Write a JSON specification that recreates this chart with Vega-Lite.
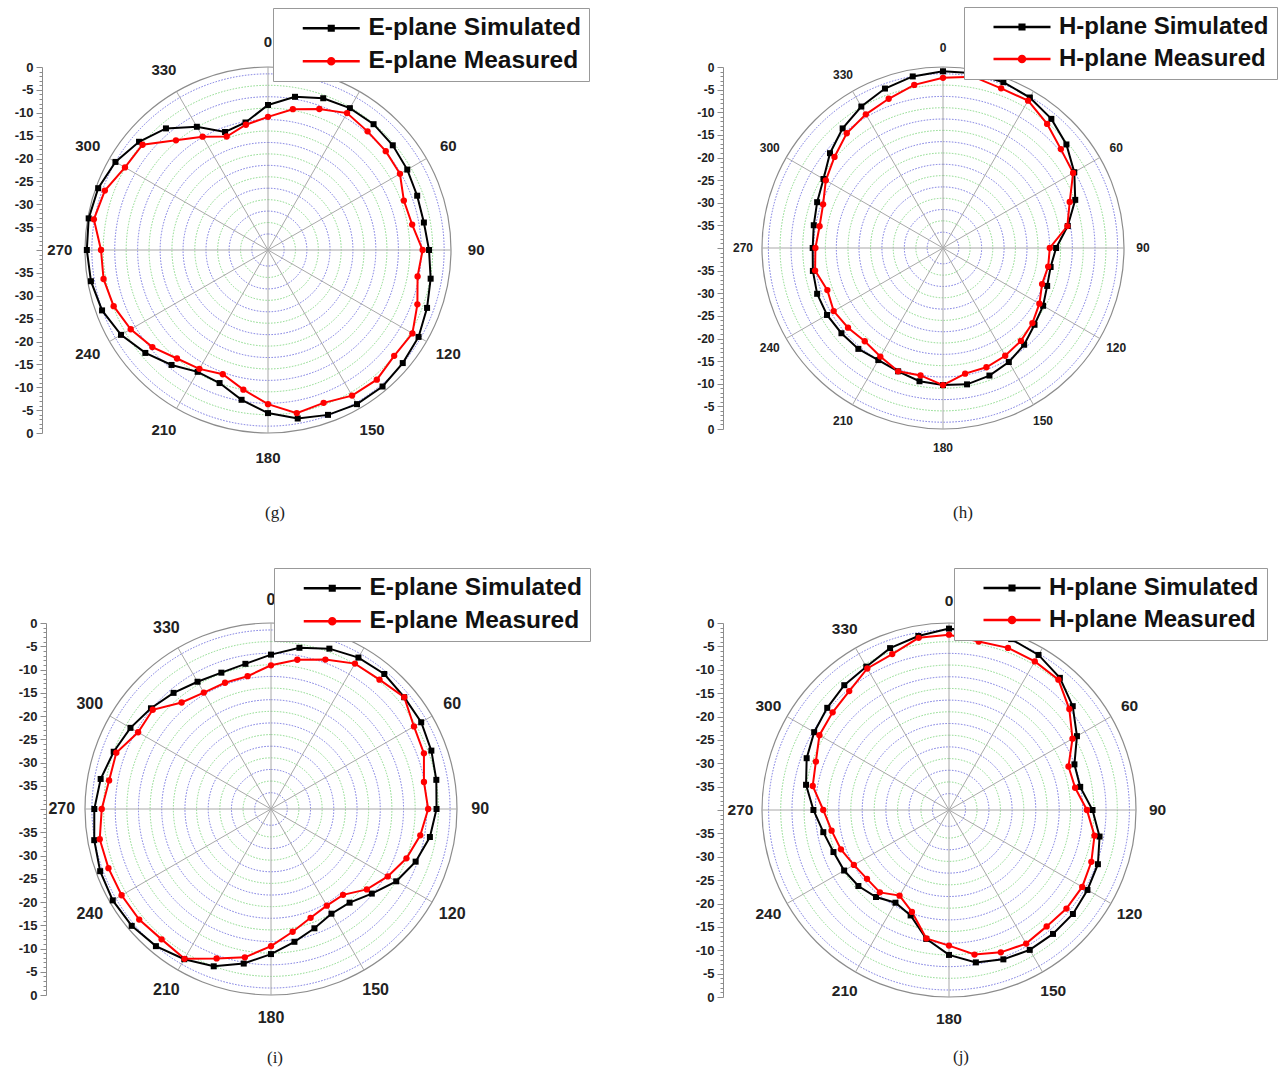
{
"$schema": "https://vega.github.io/schema/vega-lite/v6.json",
"background": "white",
"padding": {"left": 14, "top": 6, "right": 5, "bottom": 5},
"columns": 2,
"spacing": {"row": 190, "column": 305},
"bounds": "flush",
"config": {"view": {"stroke": null}, "font": "Liberation Sans"},
"resolve": {"scale": {"fill": "independent", "stroke": "independent", "shape": "independent", "radius": "independent", "theta": "independent"}},
"datasets": {
"grid": [
{"r": 3.5, "k": "b"}, {"r": 8.5, "k": "b"}, {"r": 13.5, "k": "b"}, {"r": 18.5, "k": "b"}, {"r": 23.5, "k": "b"}, {"r": 28.5, "k": "b"}, {"r": 33.5, "k": "b"}, {"r": 38.5, "k": "b"},
{"r": 6, "k": "g"}, {"r": 11, "k": "g"}, {"r": 16, "k": "g"}, {"r": 21, "k": "g"}, {"r": 26, "k": "g"}, {"r": 31, "k": "g"}, {"r": 36, "k": "g"},
{"r": 40, "k": "o"}
],
"angles": [
{"a": 0, "t": "0"}, {"a": 30, "t": "30"}, {"a": 60, "t": "60"}, {"a": 90, "t": "90"}, {"a": 120, "t": "120"}, {"a": 150, "t": "150"},
{"a": 180, "t": "180"}, {"a": 210, "t": "210"}, {"a": 240, "t": "240"}, {"a": 270, "t": "270"}, {"a": 300, "t": "300"}, {"a": 330, "t": "330"}
],
"curves": [
{"p":"g","s":"Simulated","a":0,"v":-8.3},{"p":"g","s":"Simulated","a":10,"v":-6.0},{"p":"g","s":"Simulated","a":20,"v":-4.7},{"p":"g","s":"Simulated","a":30,"v":-4.2},{"p":"g","s":"Simulated","a":40,"v":-4.1},{"p":"g","s":"Simulated","a":50,"v":-4.4},{"p":"g","s":"Simulated","a":60,"v":-4.85},{"p":"g","s":"Simulated","a":70,"v":-5.3},{"p":"g","s":"Simulated","a":80,"v":-5.4},{"p":"g","s":"Simulated","a":90,"v":-4.8},{"p":"g","s":"Simulated","a":100,"v":-3.9},{"p":"g","s":"Simulated","a":110,"v":-3.0},{"p":"g","s":"Simulated","a":120,"v":-2.0},{"p":"g","s":"Simulated","a":130,"v":-1.55},{"p":"g","s":"Simulated","a":140,"v":-1.05},{"p":"g","s":"Simulated","a":150,"v":-1.1},{"p":"g","s":"Simulated","a":160,"v":-1.65},{"p":"g","s":"Simulated","a":170,"v":-2.6},{"p":"g","s":"Simulated","a":180,"v":-4.35},{"p":"g","s":"Simulated","a":190,"v":-6.75},{"p":"g","s":"Simulated","a":200,"v":-9.05},{"p":"g","s":"Simulated","a":210,"v":-9.25},{"p":"g","s":"Simulated","a":220,"v":-7.2},{"p":"g","s":"Simulated","a":230,"v":-5.0},{"p":"g","s":"Simulated","a":240,"v":-2.9},{"p":"g","s":"Simulated","a":250,"v":-1.4},{"p":"g","s":"Simulated","a":260,"v":-0.7},{"p":"g","s":"Simulated","a":270,"v":-0.4},{"p":"g","s":"Simulated","a":280,"v":-0.2},{"p":"g","s":"Simulated","a":290,"v":-0.5},{"p":"g","s":"Simulated","a":300,"v":-1.5},{"p":"g","s":"Simulated","a":310,"v":-3.2},{"p":"g","s":"Simulated","a":320,"v":-5.3},{"p":"g","s":"Simulated","a":330,"v":-8.9},{"p":"g","s":"Simulated","a":340,"v":-12.55},{"p":"g","s":"Simulated","a":350,"v":-11.7},
{"p":"g","s":"Measured","a":0,"v":-10.9},{"p":"g","s":"Measured","a":10,"v":-8.75},{"p":"g","s":"Measured","a":20,"v":-7.2},{"p":"g","s":"Measured","a":30,"v":-5.45},{"p":"g","s":"Measured","a":40,"v":-6.15},{"p":"g","s":"Measured","a":50,"v":-6.4},{"p":"g","s":"Measured","a":60,"v":-6.7},{"p":"g","s":"Measured","a":70,"v":-8.4},{"p":"g","s":"Measured","a":80,"v":-8.0},{"p":"g","s":"Measured","a":90,"v":-6.2},{"p":"g","s":"Measured","a":100,"v":-6.8},{"p":"g","s":"Measured","a":110,"v":-5.25},{"p":"g","s":"Measured","a":120,"v":-3.55},{"p":"g","s":"Measured","a":130,"v":-4.0},{"p":"g","s":"Measured","a":140,"v":-3.0},{"p":"g","s":"Measured","a":150,"v":-3.25},{"p":"g","s":"Measured","a":160,"v":-4.45},{"p":"g","s":"Measured","a":170,"v":-3.8},{"p":"g","s":"Measured","a":180,"v":-6.3},{"p":"g","s":"Measured","a":190,"v":-9.0},{"p":"g","s":"Measured","a":200,"v":-11.1},{"p":"g","s":"Measured","a":210,"v":-10.0},{"p":"g","s":"Measured","a":220,"v":-9.05},{"p":"g","s":"Measured","a":230,"v":-7.0},{"p":"g","s":"Measured","a":240,"v":-5.35},{"p":"g","s":"Measured","a":250,"v":-4.1},{"p":"g","s":"Measured","a":260,"v":-3.5},{"p":"g","s":"Measured","a":270,"v":-3.5},{"p":"g","s":"Measured","a":280,"v":-1.35},{"p":"g","s":"Measured","a":290,"v":-2.05},{"p":"g","s":"Measured","a":300,"v":-3.9},{"p":"g","s":"Measured","a":310,"v":-4.2},{"p":"g","s":"Measured","a":320,"v":-8.7},{"p":"g","s":"Measured","a":330,"v":-11.4},{"p":"g","s":"Measured","a":340,"v":-13.6},{"p":"g","s":"Measured","a":350,"v":-12.2},
{"p":"h","s":"Simulated","a":0,"v":-0.95},{"p":"h","s":"Simulated","a":10,"v":-0.8},{"p":"h","s":"Simulated","a":20,"v":-1.0},{"p":"h","s":"Simulated","a":30,"v":-1.6},{"p":"h","s":"Simulated","a":40,"v":-2.75},{"p":"h","s":"Simulated","a":50,"v":-4.4},{"p":"h","s":"Simulated","a":60,"v":-6.5},{"p":"h","s":"Simulated","a":70,"v":-8.9},{"p":"h","s":"Simulated","a":80,"v":-12.0},{"p":"h","s":"Simulated","a":90,"v":-15.0},{"p":"h","s":"Simulated","a":100,"v":-15.85},{"p":"h","s":"Simulated","a":110,"v":-15.5},{"p":"h","s":"Simulated","a":120,"v":-14.45},{"p":"h","s":"Simulated","a":130,"v":-13.6},{"p":"h","s":"Simulated","a":140,"v":-12.1},{"p":"h","s":"Simulated","a":150,"v":-10.9},{"p":"h","s":"Simulated","a":160,"v":-10.0},{"p":"h","s":"Simulated","a":170,"v":-9.4},{"p":"h","s":"Simulated","a":180,"v":-9.7},{"p":"h","s":"Simulated","a":190,"v":-10.1},{"p":"h","s":"Simulated","a":200,"v":-11.0},{"p":"h","s":"Simulated","a":210,"v":-11.4},{"p":"h","s":"Simulated","a":220,"v":-10.9},{"p":"h","s":"Simulated","a":230,"v":-10.7},{"p":"h","s":"Simulated","a":240,"v":-10.4},{"p":"h","s":"Simulated","a":250,"v":-10.4},{"p":"h","s":"Simulated","a":260,"v":-10.8},{"p":"h","s":"Simulated","a":270,"v":-11.2},{"p":"h","s":"Simulated","a":280,"v":-11.0},{"p":"h","s":"Simulated","a":290,"v":-10.4},{"p":"h","s":"Simulated","a":300,"v":-9.5},{"p":"h","s":"Simulated","a":310,"v":-7.4},{"p":"h","s":"Simulated","a":320,"v":-5.5},{"p":"h","s":"Simulated","a":330,"v":-3.9},{"p":"h","s":"Simulated","a":340,"v":-2.5},{"p":"h","s":"Simulated","a":350,"v":-1.5},
{"p":"h","s":"Measured","a":0,"v":-2.4},{"p":"h","s":"Measured","a":10,"v":-1.55},{"p":"h","s":"Measured","a":20,"v":-2.45},{"p":"h","s":"Measured","a":30,"v":-2.4},{"p":"h","s":"Measured","a":40,"v":-4.2},{"p":"h","s":"Measured","a":50,"v":-6.0},{"p":"h","s":"Measured","a":60,"v":-6.8},{"p":"h","s":"Measured","a":70,"v":-10.2},{"p":"h","s":"Measured","a":80,"v":-12.1},{"p":"h","s":"Measured","a":90,"v":-16.4},{"p":"h","s":"Measured","a":100,"v":-16.4},{"p":"h","s":"Measured","a":110,"v":-16.7},{"p":"h","s":"Measured","a":120,"v":-15.4},{"p":"h","s":"Measured","a":130,"v":-14.2},{"p":"h","s":"Measured","a":140,"v":-13.2},{"p":"h","s":"Measured","a":150,"v":-12.5},{"p":"h","s":"Measured","a":160,"v":-11.95},{"p":"h","s":"Measured","a":170,"v":-11.8},{"p":"h","s":"Measured","a":180,"v":-9.7},{"p":"h","s":"Measured","a":190,"v":-11.4},{"p":"h","s":"Measured","a":200,"v":-11.0},{"p":"h","s":"Measured","a":210,"v":-12.3},{"p":"h","s":"Measured","a":220,"v":-13.1},{"p":"h","s":"Measured","a":230,"v":-12.6},{"p":"h","s":"Measured","a":240,"v":-12.1},{"p":"h","s":"Measured","a":250,"v":-12.8},{"p":"h","s":"Measured","a":260,"v":-11.3},{"p":"h","s":"Measured","a":270,"v":-11.8},{"p":"h","s":"Measured","a":280,"v":-12.3},{"p":"h","s":"Measured","a":290,"v":-11.8},{"p":"h","s":"Measured","a":300,"v":-10.1},{"p":"h","s":"Measured","a":310,"v":-8.7},{"p":"h","s":"Measured","a":320,"v":-6.9},{"p":"h","s":"Measured","a":330,"v":-5.9},{"p":"h","s":"Measured","a":340,"v":-4.9},{"p":"h","s":"Measured","a":350,"v":-3.4},
{"p":"i","s":"Simulated","a":0,"v":-6.8},{"p":"i","s":"Simulated","a":10,"v":-4.8},{"p":"i","s":"Simulated","a":20,"v":-3.3},{"p":"i","s":"Simulated","a":30,"v":-2.4},{"p":"i","s":"Simulated","a":40,"v":-2.1},{"p":"i","s":"Simulated","a":50,"v":-2.6},{"p":"i","s":"Simulated","a":60,"v":-2.7},{"p":"i","s":"Simulated","a":70,"v":-3.3},{"p":"i","s":"Simulated","a":80,"v":-3.9},{"p":"i","s":"Simulated","a":90,"v":-4.4},{"p":"i","s":"Simulated","a":100,"v":-5.3},{"p":"i","s":"Simulated","a":110,"v":-6.9},{"p":"i","s":"Simulated","a":120,"v":-8.9},{"p":"i","s":"Simulated","a":130,"v":-11.7},{"p":"i","s":"Simulated","a":140,"v":-13.7},{"p":"i","s":"Simulated","a":150,"v":-14.0},{"p":"i","s":"Simulated","a":160,"v":-12.7},{"p":"i","s":"Simulated","a":170,"v":-11.0},{"p":"i","s":"Simulated","a":180,"v":-8.8},{"p":"i","s":"Simulated","a":190,"v":-6.25},{"p":"i","s":"Simulated","a":200,"v":-4.0},{"p":"i","s":"Simulated","a":210,"v":-2.7},{"p":"i","s":"Simulated","a":220,"v":-1.5},{"p":"i","s":"Simulated","a":230,"v":-0.9},{"p":"i","s":"Simulated","a":240,"v":-0.7},{"p":"i","s":"Simulated","a":250,"v":-0.9},{"p":"i","s":"Simulated","a":260,"v":-1.4},{"p":"i","s":"Simulated","a":270,"v":-2.0},{"p":"i","s":"Simulated","a":280,"v":-2.8},{"p":"i","s":"Simulated","a":290,"v":-4.0},{"p":"i","s":"Simulated","a":300,"v":-5.1},{"p":"i","s":"Simulated","a":310,"v":-6.3},{"p":"i","s":"Simulated","a":320,"v":-7.4},{"p":"i","s":"Simulated","a":330,"v":-8.4},{"p":"i","s":"Simulated","a":340,"v":-8.8},{"p":"i","s":"Simulated","a":350,"v":-8.3},
{"p":"i","s":"Measured","a":0,"v":-9.1},{"p":"i","s":"Measured","a":10,"v":-7.4},{"p":"i","s":"Measured","a":20,"v":-5.8},{"p":"i","s":"Measured","a":30,"v":-3.9},{"p":"i","s":"Measured","a":40,"v":-3.7},{"p":"i","s":"Measured","a":50,"v":-2.6},{"p":"i","s":"Measured","a":60,"v":-4.5},{"p":"i","s":"Measured","a":70,"v":-5.0},{"p":"i","s":"Measured","a":80,"v":-6.6},{"p":"i","s":"Measured","a":90,"v":-6.2},{"p":"i","s":"Measured","a":100,"v":-7.4},{"p":"i","s":"Measured","a":110,"v":-9.0},{"p":"i","s":"Measured","a":120,"v":-11.0},{"p":"i","s":"Measured","a":130,"v":-13.1},{"p":"i","s":"Measured","a":140,"v":-15.9},{"p":"i","s":"Measured","a":150,"v":-16.0},{"p":"i","s":"Measured","a":160,"v":-15.1},{"p":"i","s":"Measured","a":170,"v":-13.2},{"p":"i","s":"Measured","a":180,"v":-10.5},{"p":"i","s":"Measured","a":190,"v":-7.6},{"p":"i","s":"Measured","a":200,"v":-5.8},{"p":"i","s":"Measured","a":210,"v":-2.8},{"p":"i","s":"Measured","a":220,"v":-3.4},{"p":"i","s":"Measured","a":230,"v":-3.0},{"p":"i","s":"Measured","a":240,"v":-2.9},{"p":"i","s":"Measured","a":250,"v":-2.8},{"p":"i","s":"Measured","a":260,"v":-2.6},{"p":"i","s":"Measured","a":270,"v":-3.6},{"p":"i","s":"Measured","a":280,"v":-4.65},{"p":"i","s":"Measured","a":290,"v":-4.6},{"p":"i","s":"Measured","a":300,"v":-7.0},{"p":"i","s":"Measured","a":310,"v":-6.8},{"p":"i","s":"Measured","a":320,"v":-10.1},{"p":"i","s":"Measured","a":330,"v":-11.1},{"p":"i","s":"Measured","a":340,"v":-11.1},{"p":"i","s":"Measured","a":350,"v":-11.0},
{"p":"j","s":"Simulated","a":0,"v":-1.2},{"p":"j","s":"Simulated","a":10,"v":-1.5},{"p":"j","s":"Simulated","a":20,"v":-1.1},{"p":"j","s":"Simulated","a":30,"v":-1.7},{"p":"j","s":"Simulated","a":40,"v":-3.1},{"p":"j","s":"Simulated","a":50,"v":-5.45},{"p":"j","s":"Simulated","a":60,"v":-8.4},{"p":"j","s":"Simulated","a":70,"v":-11.45},{"p":"j","s":"Simulated","a":80,"v":-11.5},{"p":"j","s":"Simulated","a":90,"v":-9.3},{"p":"j","s":"Simulated","a":100,"v":-7.3},{"p":"j","s":"Simulated","a":110,"v":-6.1},{"p":"j","s":"Simulated","a":120,"v":-5.8},{"p":"j","s":"Simulated","a":130,"v":-5.4},{"p":"j","s":"Simulated","a":140,"v":-5.4},{"p":"j","s":"Simulated","a":150,"v":-5.45},{"p":"j","s":"Simulated","a":160,"v":-6.0},{"p":"j","s":"Simulated","a":170,"v":-6.9},{"p":"j","s":"Simulated","a":180,"v":-9.0},{"p":"j","s":"Simulated","a":190,"v":-12.0},{"p":"j","s":"Simulated","a":200,"v":-16.0},{"p":"j","s":"Simulated","a":210,"v":-17.1},{"p":"j","s":"Simulated","a":220,"v":-15.7},{"p":"j","s":"Simulated","a":230,"v":-14.7},{"p":"j","s":"Simulated","a":240,"v":-14.1},{"p":"j","s":"Simulated","a":250,"v":-13.7},{"p":"j","s":"Simulated","a":260,"v":-12.7},{"p":"j","s":"Simulated","a":270,"v":-11.0},{"p":"j","s":"Simulated","a":280,"v":-8.95},{"p":"j","s":"Simulated","a":290,"v":-7.6},{"p":"j","s":"Simulated","a":300,"v":-6.7},{"p":"j","s":"Simulated","a":310,"v":-6.0},{"p":"j","s":"Simulated","a":320,"v":-5.15},{"p":"j","s":"Simulated","a":330,"v":-4.6},{"p":"j","s":"Simulated","a":340,"v":-3.15},{"p":"j","s":"Simulated","a":350,"v":-2.2},
{"p":"j","s":"Measured","a":0,"v":-2.5},{"p":"j","s":"Measured","a":10,"v":-3.4},{"p":"j","s":"Measured","a":20,"v":-3.1},{"p":"j","s":"Measured","a":30,"v":-3.3},{"p":"j","s":"Measured","a":40,"v":-3.6},{"p":"j","s":"Measured","a":50,"v":-6.4},{"p":"j","s":"Measured","a":60,"v":-9.5},{"p":"j","s":"Measured","a":70,"v":-12.8},{"p":"j","s":"Measured","a":80,"v":-12.6},{"p":"j","s":"Measured","a":90,"v":-10.5},{"p":"j","s":"Measured","a":100,"v":-8.4},{"p":"j","s":"Measured","a":110,"v":-7.6},{"p":"j","s":"Measured","a":120,"v":-7.1},{"p":"j","s":"Measured","a":130,"v":-7.2},{"p":"j","s":"Measured","a":140,"v":-7.5},{"p":"j","s":"Measured","a":150,"v":-7.0},{"p":"j","s":"Measured","a":160,"v":-7.6},{"p":"j","s":"Measured","a":170,"v":-8.6},{"p":"j","s":"Measured","a":180,"v":-11.0},{"p":"j","s":"Measured","a":190,"v":-12.1},{"p":"j","s":"Measured","a":200,"v":-16.8},{"p":"j","s":"Measured","a":210,"v":-18.85},{"p":"j","s":"Measured","a":220,"v":-17.0},{"p":"j","s":"Measured","a":230,"v":-17.1},{"p":"j","s":"Measured","a":240,"v":-16.5},{"p":"j","s":"Measured","a":250,"v":-15.4},{"p":"j","s":"Measured","a":260,"v":-14.5},{"p":"j","s":"Measured","a":270,"v":-13.1},{"p":"j","s":"Measured","a":280,"v":-10.4},{"p":"j","s":"Measured","a":290,"v":-9.7},{"p":"j","s":"Measured","a":300,"v":-8.0},{"p":"j","s":"Measured","a":310,"v":-7.5},{"p":"j","s":"Measured","a":320,"v":-6.8},{"p":"j","s":"Measured","a":330,"v":-5.05},{"p":"j","s":"Measured","a":340,"v":-4.5},{"p":"j","s":"Measured","a":350,"v":-2.6}
]
},
"concat": [
{
"width": 366, "height": 366,
"title": {"text": "(g)", "orient": "bottom", "frame": "group", "offset": 39, "dx": 7, "font": "Liberation Serif", "fontSize": 17, "fontWeight": "normal", "color": "#222222"},
"data": {"name": "curves"},
"transform": [{"filter": "datum.p == 'g'"}, {"calculate": "(datum.v + 40) * sin(datum.a * PI / 180)", "as": "x"}, {"calculate": "(datum.v + 40) * cos(datum.a * PI / 180)", "as": "y"}],
"resolve": {"axis": {"y": "independent"}},
"layer": [
{"data": {"name": "grid"}, "transform": [{"filter": "datum.k == 'b'"}],
 "mark": {"type": "arc", "theta": 0, "theta2": 6.2832, "fill": "transparent", "stroke": "#7373e0", "strokeWidth": 1, "strokeDash": [1.5, 1.5]},
 "encoding": {"radius": {"field": "r", "type": "quantitative", "stack": null, "scale": {"type": "linear", "domain": [0, 40], "range": [0, 183], "zero": true, "nice": false}}}},
{"data": {"name": "grid"}, "transform": [{"filter": "datum.k == 'g'"}],
 "mark": {"type": "arc", "theta": 0, "theta2": 6.2832, "fill": "transparent", "stroke": "#86d986", "strokeWidth": 1, "strokeDash": [1.5, 1.5]},
 "encoding": {"radius": {"field": "r", "type": "quantitative", "stack": null, "scale": {"type": "linear", "domain": [0, 40], "range": [0, 183], "zero": true, "nice": false}}}},
{"data": {"name": "grid"}, "transform": [{"filter": "datum.k == 'o'"}],
 "mark": {"type": "arc", "theta": 0, "theta2": 6.2832, "fill": "transparent", "stroke": "#8c8c8c", "strokeWidth": 1.2},
 "encoding": {"radius": {"field": "r", "type": "quantitative", "stack": null, "scale": {"type": "linear", "domain": [0, 40], "range": [0, 183], "zero": true, "nice": false}}}},
{"data": {"name": "angles"}, "transform": [{"calculate": "40 * sin(datum.a * PI / 180)", "as": "ex"}, {"calculate": "40 * cos(datum.a * PI / 180)", "as": "ey"}],
 "mark": {"type": "rule", "stroke": "#a8a8a8", "strokeWidth": 1},
 "encoding": {"x": {"field": "ex", "type": "quantitative", "scale": {"domain": [-40, 40], "nice": false, "zero": false}, "axis": null}, "y": {"field": "ey", "type": "quantitative", "scale": {"domain": [-40, 40], "nice": false, "zero": false}, "axis": {"orient": "left", "offset": 43, "values": [-39,-38,-37,-36,-34,-33,-32,-31,-29,-28,-27,-26,-24,-23,-22,-21,-19,-18,-17,-16,-14,-13,-12,-11,-9,-8,-7,-6,-4,-3,-2,-1,1,2,3,4,6,7,8,9,11,12,13,14,16,17,18,19,21,22,23,24,26,27,28,29,31,32,33,34,36,37,38,39], "labels": false, "domain": false, "grid": false, "tickSize": 3, "tickColor": "#8c8c8c", "title": null}}, "x2": {"datum": 0}, "y2": {"datum": 0}}},
{"transform": [{"filter": "datum.s == 'Simulated'"}], "mark": {"type": "line", "interpolate": "linear-closed", "strokeWidth": 2, "color": "#000000"},
 "encoding": {"x": {"field": "x", "type": "quantitative", "scale": {"domain": [-40, 40], "nice": false, "zero": false}, "axis": null}, "y": {"field": "y", "type": "quantitative", "scale": {"domain": [-40, 40], "nice": false, "zero": false}, "axis": {"orient": "left", "offset": 43, "values": [-40,-35,-30,-25,-20,-15,-10,-5,0,5,10,15,20,25,30,35,40], "labelExpr": "datum.value == 0 ? '' : '' + (abs(datum.value) - 40)", "title": null, "grid": false, "domainColor": "#8c8c8c", "tickColor": "#8c8c8c", "tickSize": 6, "labelFont": "Liberation Sans", "labelFontSize": 13, "labelFontWeight": "bold", "labelColor": "#222222", "labelPadding": 3, "labelOverlap": false, "labelFlush": false, "labelBound": false}}, "order": {"field": "a", "type": "quantitative"}}},
{"transform": [{"filter": "datum.s == 'Measured'"}], "mark": {"type": "line", "interpolate": "linear-closed", "strokeWidth": 2, "color": "#ff0000"},
 "encoding": {"x": {"field": "x", "type": "quantitative", "axis": null}, "y": {"field": "y", "type": "quantitative", "axis": null}, "order": {"field": "a", "type": "quantitative"}}},
{"transform": [{"filter": "datum.s == 'Simulated'"}], "mark": {"type": "point", "shape": "square", "filled": true, "color": "#000000", "size": 36, "opacity": 1},
 "encoding": {"x": {"field": "x", "type": "quantitative", "axis": null}, "y": {"field": "y", "type": "quantitative", "axis": null}}},
{"transform": [{"filter": "datum.s == 'Measured'"}], "mark": {"type": "point", "shape": "circle", "filled": true, "color": "#ff0000", "size": 40, "opacity": 1},
 "encoding": {"x": {"field": "x", "type": "quantitative", "axis": null}, "y": {"field": "y", "type": "quantitative", "axis": null}}},
{"mark": {"type": "point", "opacity": 0},
 "encoding": {"x": {"field": "x", "type": "quantitative", "axis": null}, "y": {"field": "y", "type": "quantitative", "axis": null},
  "fill": {"field": "s", "type": "nominal", "scale": {"domain": ["Simulated", "Measured"], "range": ["#000000", "#ff0000"]}, "legend": {"orient": "none", "legendX": 188, "legendY": -59, "title": null, "labelExpr": "'E-plane ' + datum.label", "labelFont": "Liberation Sans", "labelFontSize": 24.5, "labelFontWeight": "bold", "labelColor": "#111111", "symbolSize": 400, "symbolStrokeWidth": 2.5, "symbolOpacity": 1, "symbolOffset": 38, "fillColor": "#ffffff", "strokeColor": "#999999", "padding": 8, "rowPadding": 8, "labelOffset": 25, "labelLimit": 400}},
  "stroke": {"field": "s", "type": "nominal", "scale": {"domain": ["Simulated", "Measured"], "range": ["#000000", "#ff0000"]}, "legend": {"orient": "none", "legendX": 188, "legendY": -59, "title": null, "labelExpr": "'E-plane ' + datum.label", "labelFont": "Liberation Sans", "labelFontSize": 24.5, "labelFontWeight": "bold", "labelColor": "#111111", "symbolSize": 400, "symbolStrokeWidth": 2.5, "symbolOpacity": 1, "symbolOffset": 38, "fillColor": "#ffffff", "strokeColor": "#999999", "padding": 8, "rowPadding": 8, "labelOffset": 25, "labelLimit": 400}},
  "shape": {"field": "s", "type": "nominal", "scale": {"domain": ["Simulated", "Measured"], "range": ["M-2.85,0H2.85M-0.23,-0.23H0.23V0.23H-0.23Z", "M-2.85,0H2.85M0.3,0A0.3,0.3,0,1,1,-0.3,0A0.3,0.3,0,1,1,0.3,0Z"]}, "legend": {"orient": "none", "legendX": 188, "legendY": -59, "title": null, "labelExpr": "'E-plane ' + datum.label", "labelFont": "Liberation Sans", "labelFontSize": 24.5, "labelFontWeight": "bold", "labelColor": "#111111", "symbolSize": 400, "symbolStrokeWidth": 2.5, "symbolOpacity": 1, "symbolOffset": 38, "fillColor": "#ffffff", "strokeColor": "#999999", "padding": 8, "rowPadding": 8, "labelOffset": 25, "labelLimit": 400}}}},
{"data": {"name": "angles"},
 "mark": {"type": "text", "font": "Liberation Sans", "fontSize": 15, "fontWeight": "bold", "color": "#222222", "align": "center", "baseline": "middle"},
 "encoding": {"theta": {"field": "a", "type": "quantitative", "scale": {"domain": [0, 360], "range": [0, 6.283185307179586]}}, "radius": {"datum": 45.5, "type": "quantitative", "scale": {"type": "linear", "domain": [0, 40], "range": [0, 183], "zero": true, "nice": false}}, "text": {"field": "t", "type": "nominal"}}}
]
},
{
"width": 362, "height": 362,
"title": {"text": "(h)", "orient": "bottom", "frame": "group", "offset": 51, "dx": 20, "font": "Liberation Serif", "fontSize": 17, "fontWeight": "normal", "color": "#222222"},
"data": {"name": "curves"},
"transform": [{"filter": "datum.p == 'h'"}, {"calculate": "(datum.v + 40) * sin(datum.a * PI / 180)", "as": "x"}, {"calculate": "(datum.v + 40) * cos(datum.a * PI / 180)", "as": "y"}],
"resolve": {"axis": {"y": "independent"}},
"layer": [
{"data": {"name": "grid"}, "transform": [{"filter": "datum.k == 'b'"}],
 "mark": {"type": "arc", "theta": 0, "theta2": 6.2832, "fill": "transparent", "stroke": "#7373e0", "strokeWidth": 1, "strokeDash": [1.5, 1.5]},
 "encoding": {"radius": {"field": "r", "type": "quantitative", "stack": null, "scale": {"type": "linear", "domain": [0, 40], "range": [0, 181], "zero": true, "nice": false}}}},
{"data": {"name": "grid"}, "transform": [{"filter": "datum.k == 'g'"}],
 "mark": {"type": "arc", "theta": 0, "theta2": 6.2832, "fill": "transparent", "stroke": "#86d986", "strokeWidth": 1, "strokeDash": [1.5, 1.5]},
 "encoding": {"radius": {"field": "r", "type": "quantitative", "stack": null, "scale": {"type": "linear", "domain": [0, 40], "range": [0, 181], "zero": true, "nice": false}}}},
{"data": {"name": "grid"}, "transform": [{"filter": "datum.k == 'o'"}],
 "mark": {"type": "arc", "theta": 0, "theta2": 6.2832, "fill": "transparent", "stroke": "#8c8c8c", "strokeWidth": 1.2},
 "encoding": {"radius": {"field": "r", "type": "quantitative", "stack": null, "scale": {"type": "linear", "domain": [0, 40], "range": [0, 181], "zero": true, "nice": false}}}},
{"data": {"name": "angles"}, "transform": [{"calculate": "40 * sin(datum.a * PI / 180)", "as": "ex"}, {"calculate": "40 * cos(datum.a * PI / 180)", "as": "ey"}],
 "mark": {"type": "rule", "stroke": "#a8a8a8", "strokeWidth": 1},
 "encoding": {"x": {"field": "ex", "type": "quantitative", "scale": {"domain": [-40, 40], "nice": false, "zero": false}, "axis": null}, "y": {"field": "ey", "type": "quantitative", "scale": {"domain": [-40, 40], "nice": false, "zero": false}, "axis": {"orient": "left", "offset": 39, "values": [-39,-38,-37,-36,-34,-33,-32,-31,-29,-28,-27,-26,-24,-23,-22,-21,-19,-18,-17,-16,-14,-13,-12,-11,-9,-8,-7,-6,-4,-3,-2,-1,1,2,3,4,6,7,8,9,11,12,13,14,16,17,18,19,21,22,23,24,26,27,28,29,31,32,33,34,36,37,38,39], "labels": false, "domain": false, "grid": false, "tickSize": 3, "tickColor": "#8c8c8c", "title": null}}, "x2": {"datum": 0}, "y2": {"datum": 0}}},
{"transform": [{"filter": "datum.s == 'Simulated'"}], "mark": {"type": "line", "interpolate": "linear-closed", "strokeWidth": 2, "color": "#000000"},
 "encoding": {"x": {"field": "x", "type": "quantitative", "scale": {"domain": [-40, 40], "nice": false, "zero": false}, "axis": null}, "y": {"field": "y", "type": "quantitative", "scale": {"domain": [-40, 40], "nice": false, "zero": false}, "axis": {"orient": "left", "offset": 39, "values": [-40,-35,-30,-25,-20,-15,-10,-5,0,5,10,15,20,25,30,35,40], "labelExpr": "datum.value == 0 ? '' : '' + (abs(datum.value) - 40)", "title": null, "grid": false, "domainColor": "#8c8c8c", "tickColor": "#8c8c8c", "tickSize": 6, "labelFont": "Liberation Sans", "labelFontSize": 12, "labelFontWeight": "bold", "labelColor": "#222222", "labelPadding": 3, "labelOverlap": false, "labelFlush": false, "labelBound": false}}, "order": {"field": "a", "type": "quantitative"}}},
{"transform": [{"filter": "datum.s == 'Measured'"}], "mark": {"type": "line", "interpolate": "linear-closed", "strokeWidth": 2, "color": "#ff0000"},
 "encoding": {"x": {"field": "x", "type": "quantitative", "axis": null}, "y": {"field": "y", "type": "quantitative", "axis": null}, "order": {"field": "a", "type": "quantitative"}}},
{"transform": [{"filter": "datum.s == 'Simulated'"}], "mark": {"type": "point", "shape": "square", "filled": true, "color": "#000000", "size": 36, "opacity": 1},
 "encoding": {"x": {"field": "x", "type": "quantitative", "axis": null}, "y": {"field": "y", "type": "quantitative", "axis": null}}},
{"transform": [{"filter": "datum.s == 'Measured'"}], "mark": {"type": "point", "shape": "circle", "filled": true, "color": "#ff0000", "size": 40, "opacity": 1},
 "encoding": {"x": {"field": "x", "type": "quantitative", "axis": null}, "y": {"field": "y", "type": "quantitative", "axis": null}}},
{"mark": {"type": "point", "opacity": 0},
 "encoding": {"x": {"field": "x", "type": "quantitative", "axis": null}, "y": {"field": "y", "type": "quantitative", "axis": null},
  "fill": {"field": "s", "type": "nominal", "scale": {"domain": ["Simulated", "Measured"], "range": ["#000000", "#ff0000"]}, "legend": {"orient": "none", "legendX": 202, "legendY": -60, "title": null, "labelExpr": "'H-plane ' + datum.label", "labelFont": "Liberation Sans", "labelFontSize": 24, "labelFontWeight": "bold", "labelColor": "#111111", "symbolSize": 400, "symbolStrokeWidth": 2.5, "symbolOpacity": 1, "symbolOffset": 38, "fillColor": "#ffffff", "strokeColor": "#999999", "padding": 8, "rowPadding": 8, "labelOffset": 25, "labelLimit": 400}},
  "stroke": {"field": "s", "type": "nominal", "scale": {"domain": ["Simulated", "Measured"], "range": ["#000000", "#ff0000"]}, "legend": {"orient": "none", "legendX": 202, "legendY": -60, "title": null, "labelExpr": "'H-plane ' + datum.label", "labelFont": "Liberation Sans", "labelFontSize": 24, "labelFontWeight": "bold", "labelColor": "#111111", "symbolSize": 400, "symbolStrokeWidth": 2.5, "symbolOpacity": 1, "symbolOffset": 38, "fillColor": "#ffffff", "strokeColor": "#999999", "padding": 8, "rowPadding": 8, "labelOffset": 25, "labelLimit": 400}},
  "shape": {"field": "s", "type": "nominal", "scale": {"domain": ["Simulated", "Measured"], "range": ["M-2.85,0H2.85M-0.23,-0.23H0.23V0.23H-0.23Z", "M-2.85,0H2.85M0.3,0A0.3,0.3,0,1,1,-0.3,0A0.3,0.3,0,1,1,0.3,0Z"]}, "legend": {"orient": "none", "legendX": 202, "legendY": -60, "title": null, "labelExpr": "'H-plane ' + datum.label", "labelFont": "Liberation Sans", "labelFontSize": 24, "labelFontWeight": "bold", "labelColor": "#111111", "symbolSize": 400, "symbolStrokeWidth": 2.5, "symbolOpacity": 1, "symbolOffset": 38, "fillColor": "#ffffff", "strokeColor": "#999999", "padding": 8, "rowPadding": 8, "labelOffset": 25, "labelLimit": 400}}}},
{"data": {"name": "angles"},
 "mark": {"type": "text", "font": "Liberation Sans", "fontSize": 12, "fontWeight": "bold", "color": "#222222", "align": "center", "baseline": "middle"},
 "encoding": {"theta": {"field": "a", "type": "quantitative", "scale": {"domain": [0, 360], "range": [0, 6.283185307179586]}}, "radius": {"datum": 44.2, "type": "quantitative", "scale": {"type": "linear", "domain": [0, 40], "range": [0, 181], "zero": true, "nice": false}}, "text": {"field": "t", "type": "nominal"}}}
]
},
{
"width": 372, "height": 372,
"title": {"text": "(i)", "orient": "bottom", "frame": "group", "offset": 24, "dx": 4, "font": "Liberation Serif", "fontSize": 17, "fontWeight": "normal", "color": "#222222"},
"data": {"name": "curves"},
"transform": [{"filter": "datum.p == 'i'"}, {"calculate": "(datum.v + 40) * sin(datum.a * PI / 180)", "as": "x"}, {"calculate": "(datum.v + 40) * cos(datum.a * PI / 180)", "as": "y"}],
"resolve": {"axis": {"y": "independent"}},
"layer": [
{"data": {"name": "grid"}, "transform": [{"filter": "datum.k == 'b'"}],
 "mark": {"type": "arc", "theta": 0, "theta2": 6.2832, "fill": "transparent", "stroke": "#7373e0", "strokeWidth": 1, "strokeDash": [1.5, 1.5]},
 "encoding": {"radius": {"field": "r", "type": "quantitative", "stack": null, "scale": {"type": "linear", "domain": [0, 40], "range": [0, 186], "zero": true, "nice": false}}}},
{"data": {"name": "grid"}, "transform": [{"filter": "datum.k == 'g'"}],
 "mark": {"type": "arc", "theta": 0, "theta2": 6.2832, "fill": "transparent", "stroke": "#86d986", "strokeWidth": 1, "strokeDash": [1.5, 1.5]},
 "encoding": {"radius": {"field": "r", "type": "quantitative", "stack": null, "scale": {"type": "linear", "domain": [0, 40], "range": [0, 186], "zero": true, "nice": false}}}},
{"data": {"name": "grid"}, "transform": [{"filter": "datum.k == 'o'"}],
 "mark": {"type": "arc", "theta": 0, "theta2": 6.2832, "fill": "transparent", "stroke": "#8c8c8c", "strokeWidth": 1.2},
 "encoding": {"radius": {"field": "r", "type": "quantitative", "stack": null, "scale": {"type": "linear", "domain": [0, 40], "range": [0, 186], "zero": true, "nice": false}}}},
{"data": {"name": "angles"}, "transform": [{"calculate": "40 * sin(datum.a * PI / 180)", "as": "ex"}, {"calculate": "40 * cos(datum.a * PI / 180)", "as": "ey"}],
 "mark": {"type": "rule", "stroke": "#a8a8a8", "strokeWidth": 1},
 "encoding": {"x": {"field": "ex", "type": "quantitative", "scale": {"domain": [-40, 40], "nice": false, "zero": false}, "axis": null}, "y": {"field": "ey", "type": "quantitative", "scale": {"domain": [-40, 40], "nice": false, "zero": false}, "axis": {"orient": "left", "offset": 39, "values": [-39,-38,-37,-36,-34,-33,-32,-31,-29,-28,-27,-26,-24,-23,-22,-21,-19,-18,-17,-16,-14,-13,-12,-11,-9,-8,-7,-6,-4,-3,-2,-1,1,2,3,4,6,7,8,9,11,12,13,14,16,17,18,19,21,22,23,24,26,27,28,29,31,32,33,34,36,37,38,39], "labels": false, "domain": false, "grid": false, "tickSize": 3, "tickColor": "#8c8c8c", "title": null}}, "x2": {"datum": 0}, "y2": {"datum": 0}}},
{"transform": [{"filter": "datum.s == 'Simulated'"}], "mark": {"type": "line", "interpolate": "linear-closed", "strokeWidth": 2, "color": "#000000"},
 "encoding": {"x": {"field": "x", "type": "quantitative", "scale": {"domain": [-40, 40], "nice": false, "zero": false}, "axis": null}, "y": {"field": "y", "type": "quantitative", "scale": {"domain": [-40, 40], "nice": false, "zero": false}, "axis": {"orient": "left", "offset": 39, "values": [-40,-35,-30,-25,-20,-15,-10,-5,0,5,10,15,20,25,30,35,40], "labelExpr": "datum.value == 0 ? '' : '' + (abs(datum.value) - 40)", "title": null, "grid": false, "domainColor": "#8c8c8c", "tickColor": "#8c8c8c", "tickSize": 6, "labelFont": "Liberation Sans", "labelFontSize": 13, "labelFontWeight": "bold", "labelColor": "#222222", "labelPadding": 3, "labelOverlap": false, "labelFlush": false, "labelBound": false}}, "order": {"field": "a", "type": "quantitative"}}},
{"transform": [{"filter": "datum.s == 'Measured'"}], "mark": {"type": "line", "interpolate": "linear-closed", "strokeWidth": 2, "color": "#ff0000"},
 "encoding": {"x": {"field": "x", "type": "quantitative", "axis": null}, "y": {"field": "y", "type": "quantitative", "axis": null}, "order": {"field": "a", "type": "quantitative"}}},
{"transform": [{"filter": "datum.s == 'Simulated'"}], "mark": {"type": "point", "shape": "square", "filled": true, "color": "#000000", "size": 36, "opacity": 1},
 "encoding": {"x": {"field": "x", "type": "quantitative", "axis": null}, "y": {"field": "y", "type": "quantitative", "axis": null}}},
{"transform": [{"filter": "datum.s == 'Measured'"}], "mark": {"type": "point", "shape": "circle", "filled": true, "color": "#ff0000", "size": 40, "opacity": 1},
 "encoding": {"x": {"field": "x", "type": "quantitative", "axis": null}, "y": {"field": "y", "type": "quantitative", "axis": null}}},
{"mark": {"type": "point", "opacity": 0},
 "encoding": {"x": {"field": "x", "type": "quantitative", "axis": null}, "y": {"field": "y", "type": "quantitative", "axis": null},
  "fill": {"field": "s", "type": "nominal", "scale": {"domain": ["Simulated", "Measured"], "range": ["#000000", "#ff0000"]}, "legend": {"orient": "none", "legendX": 189, "legendY": -55, "title": null, "labelExpr": "'E-plane ' + datum.label", "labelFont": "Liberation Sans", "labelFontSize": 24.5, "labelFontWeight": "bold", "labelColor": "#111111", "symbolSize": 400, "symbolStrokeWidth": 2.5, "symbolOpacity": 1, "symbolOffset": 38, "fillColor": "#ffffff", "strokeColor": "#999999", "padding": 8, "rowPadding": 8, "labelOffset": 25, "labelLimit": 400}},
  "stroke": {"field": "s", "type": "nominal", "scale": {"domain": ["Simulated", "Measured"], "range": ["#000000", "#ff0000"]}, "legend": {"orient": "none", "legendX": 189, "legendY": -55, "title": null, "labelExpr": "'E-plane ' + datum.label", "labelFont": "Liberation Sans", "labelFontSize": 24.5, "labelFontWeight": "bold", "labelColor": "#111111", "symbolSize": 400, "symbolStrokeWidth": 2.5, "symbolOpacity": 1, "symbolOffset": 38, "fillColor": "#ffffff", "strokeColor": "#999999", "padding": 8, "rowPadding": 8, "labelOffset": 25, "labelLimit": 400}},
  "shape": {"field": "s", "type": "nominal", "scale": {"domain": ["Simulated", "Measured"], "range": ["M-2.85,0H2.85M-0.23,-0.23H0.23V0.23H-0.23Z", "M-2.85,0H2.85M0.3,0A0.3,0.3,0,1,1,-0.3,0A0.3,0.3,0,1,1,0.3,0Z"]}, "legend": {"orient": "none", "legendX": 189, "legendY": -55, "title": null, "labelExpr": "'E-plane ' + datum.label", "labelFont": "Liberation Sans", "labelFontSize": 24.5, "labelFontWeight": "bold", "labelColor": "#111111", "symbolSize": 400, "symbolStrokeWidth": 2.5, "symbolOpacity": 1, "symbolOffset": 38, "fillColor": "#ffffff", "strokeColor": "#999999", "padding": 8, "rowPadding": 8, "labelOffset": 25, "labelLimit": 400}}}},
{"data": {"name": "angles"},
 "mark": {"type": "text", "font": "Liberation Sans", "fontSize": 16, "fontWeight": "bold", "color": "#222222", "align": "center", "baseline": "middle"},
 "encoding": {"theta": {"field": "a", "type": "quantitative", "scale": {"domain": [0, 360], "range": [0, 6.283185307179586]}}, "radius": {"datum": 45, "type": "quantitative", "scale": {"type": "linear", "domain": [0, 40], "range": [0, 186], "zero": true, "nice": false}}, "text": {"field": "t", "type": "nominal"}}}
]
},
{
"width": 374, "height": 374,
"title": {"text": "(j)", "orient": "bottom", "frame": "group", "offset": 22, "dx": 12, "font": "Liberation Serif", "fontSize": 17, "fontWeight": "normal", "color": "#222222"},
"data": {"name": "curves"},
"transform": [{"filter": "datum.p == 'j'"}, {"calculate": "(datum.v + 40) * sin(datum.a * PI / 180)", "as": "x"}, {"calculate": "(datum.v + 40) * cos(datum.a * PI / 180)", "as": "y"}],
"resolve": {"axis": {"y": "independent"}},
"layer": [
{"data": {"name": "grid"}, "transform": [{"filter": "datum.k == 'b'"}],
 "mark": {"type": "arc", "theta": 0, "theta2": 6.2832, "fill": "transparent", "stroke": "#7373e0", "strokeWidth": 1, "strokeDash": [1.5, 1.5]},
 "encoding": {"radius": {"field": "r", "type": "quantitative", "stack": null, "scale": {"type": "linear", "domain": [0, 40], "range": [0, 187], "zero": true, "nice": false}}}},
{"data": {"name": "grid"}, "transform": [{"filter": "datum.k == 'g'"}],
 "mark": {"type": "arc", "theta": 0, "theta2": 6.2832, "fill": "transparent", "stroke": "#86d986", "strokeWidth": 1, "strokeDash": [1.5, 1.5]},
 "encoding": {"radius": {"field": "r", "type": "quantitative", "stack": null, "scale": {"type": "linear", "domain": [0, 40], "range": [0, 187], "zero": true, "nice": false}}}},
{"data": {"name": "grid"}, "transform": [{"filter": "datum.k == 'o'"}],
 "mark": {"type": "arc", "theta": 0, "theta2": 6.2832, "fill": "transparent", "stroke": "#8c8c8c", "strokeWidth": 1.2},
 "encoding": {"radius": {"field": "r", "type": "quantitative", "stack": null, "scale": {"type": "linear", "domain": [0, 40], "range": [0, 187], "zero": true, "nice": false}}}},
{"data": {"name": "angles"}, "transform": [{"calculate": "40 * sin(datum.a * PI / 180)", "as": "ex"}, {"calculate": "40 * cos(datum.a * PI / 180)", "as": "ey"}],
 "mark": {"type": "rule", "stroke": "#a8a8a8", "strokeWidth": 1},
 "encoding": {"x": {"field": "ex", "type": "quantitative", "scale": {"domain": [-40, 40], "nice": false, "zero": false}, "axis": null}, "y": {"field": "ey", "type": "quantitative", "scale": {"domain": [-40, 40], "nice": false, "zero": false}, "axis": {"orient": "left", "offset": 39, "values": [-39,-38,-37,-36,-34,-33,-32,-31,-29,-28,-27,-26,-24,-23,-22,-21,-19,-18,-17,-16,-14,-13,-12,-11,-9,-8,-7,-6,-4,-3,-2,-1,1,2,3,4,6,7,8,9,11,12,13,14,16,17,18,19,21,22,23,24,26,27,28,29,31,32,33,34,36,37,38,39], "labels": false, "domain": false, "grid": false, "tickSize": 3, "tickColor": "#8c8c8c", "title": null}}, "x2": {"datum": 0}, "y2": {"datum": 0}}},
{"transform": [{"filter": "datum.s == 'Simulated'"}], "mark": {"type": "line", "interpolate": "linear-closed", "strokeWidth": 2, "color": "#000000"},
 "encoding": {"x": {"field": "x", "type": "quantitative", "scale": {"domain": [-40, 40], "nice": false, "zero": false}, "axis": null}, "y": {"field": "y", "type": "quantitative", "scale": {"domain": [-40, 40], "nice": false, "zero": false}, "axis": {"orient": "left", "offset": 39, "values": [-40,-35,-30,-25,-20,-15,-10,-5,0,5,10,15,20,25,30,35,40], "labelExpr": "datum.value == 0 ? '' : '' + (abs(datum.value) - 40)", "title": null, "grid": false, "domainColor": "#8c8c8c", "tickColor": "#8c8c8c", "tickSize": 6, "labelFont": "Liberation Sans", "labelFontSize": 13, "labelFontWeight": "bold", "labelColor": "#222222", "labelPadding": 3, "labelOverlap": false, "labelFlush": false, "labelBound": false}}, "order": {"field": "a", "type": "quantitative"}}},
{"transform": [{"filter": "datum.s == 'Measured'"}], "mark": {"type": "line", "interpolate": "linear-closed", "strokeWidth": 2, "color": "#ff0000"},
 "encoding": {"x": {"field": "x", "type": "quantitative", "axis": null}, "y": {"field": "y", "type": "quantitative", "axis": null}, "order": {"field": "a", "type": "quantitative"}}},
{"transform": [{"filter": "datum.s == 'Simulated'"}], "mark": {"type": "point", "shape": "square", "filled": true, "color": "#000000", "size": 36, "opacity": 1},
 "encoding": {"x": {"field": "x", "type": "quantitative", "axis": null}, "y": {"field": "y", "type": "quantitative", "axis": null}}},
{"transform": [{"filter": "datum.s == 'Measured'"}], "mark": {"type": "point", "shape": "circle", "filled": true, "color": "#ff0000", "size": 40, "opacity": 1},
 "encoding": {"x": {"field": "x", "type": "quantitative", "axis": null}, "y": {"field": "y", "type": "quantitative", "axis": null}}},
{"mark": {"type": "point", "opacity": 0},
 "encoding": {"x": {"field": "x", "type": "quantitative", "axis": null}, "y": {"field": "y", "type": "quantitative", "axis": null},
  "fill": {"field": "s", "type": "nominal", "scale": {"domain": ["Simulated", "Measured"], "range": ["#000000", "#ff0000"]}, "legend": {"orient": "none", "legendX": 192, "legendY": -55, "title": null, "labelExpr": "'H-plane ' + datum.label", "labelFont": "Liberation Sans", "labelFontSize": 24, "labelFontWeight": "bold", "labelColor": "#111111", "symbolSize": 400, "symbolStrokeWidth": 2.5, "symbolOpacity": 1, "symbolOffset": 38, "fillColor": "#ffffff", "strokeColor": "#999999", "padding": 8, "rowPadding": 8, "labelOffset": 25, "labelLimit": 400}},
  "stroke": {"field": "s", "type": "nominal", "scale": {"domain": ["Simulated", "Measured"], "range": ["#000000", "#ff0000"]}, "legend": {"orient": "none", "legendX": 192, "legendY": -55, "title": null, "labelExpr": "'H-plane ' + datum.label", "labelFont": "Liberation Sans", "labelFontSize": 24, "labelFontWeight": "bold", "labelColor": "#111111", "symbolSize": 400, "symbolStrokeWidth": 2.5, "symbolOpacity": 1, "symbolOffset": 38, "fillColor": "#ffffff", "strokeColor": "#999999", "padding": 8, "rowPadding": 8, "labelOffset": 25, "labelLimit": 400}},
  "shape": {"field": "s", "type": "nominal", "scale": {"domain": ["Simulated", "Measured"], "range": ["M-2.85,0H2.85M-0.23,-0.23H0.23V0.23H-0.23Z", "M-2.85,0H2.85M0.3,0A0.3,0.3,0,1,1,-0.3,0A0.3,0.3,0,1,1,0.3,0Z"]}, "legend": {"orient": "none", "legendX": 192, "legendY": -55, "title": null, "labelExpr": "'H-plane ' + datum.label", "labelFont": "Liberation Sans", "labelFontSize": 24, "labelFontWeight": "bold", "labelColor": "#111111", "symbolSize": 400, "symbolStrokeWidth": 2.5, "symbolOpacity": 1, "symbolOffset": 38, "fillColor": "#ffffff", "strokeColor": "#999999", "padding": 8, "rowPadding": 8, "labelOffset": 25, "labelLimit": 400}}}},
{"data": {"name": "angles"},
 "mark": {"type": "text", "font": "Liberation Sans", "fontSize": 15.5, "fontWeight": "bold", "color": "#222222", "align": "center", "baseline": "middle"},
 "encoding": {"theta": {"field": "a", "type": "quantitative", "scale": {"domain": [0, 360], "range": [0, 6.283185307179586]}}, "radius": {"datum": 44.6, "type": "quantitative", "scale": {"type": "linear", "domain": [0, 40], "range": [0, 187], "zero": true, "nice": false}}, "text": {"field": "t", "type": "nominal"}}}
]
}
]
}
